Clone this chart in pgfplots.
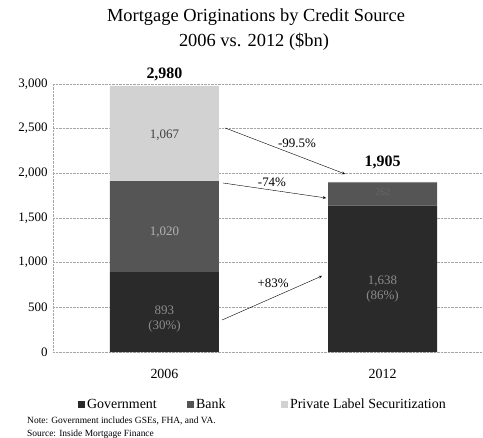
\documentclass[border=0pt]{standalone}
\usepackage{pgfplots}
\pgfplotsset{compat=1.18}
\usepackage{fontspec}
\setmainfont{Liberation Serif}
\definecolor{gov}{HTML}{2A2A2A}
\definecolor{bank}{HTML}{555555}
\definecolor{pls}{HTML}{D2D2D2}
\begin{document}
\begin{tikzpicture}
\path[use as bounding box] (0,0) rectangle (483bp,438bp);
\begin{axis}[
  at={(53bp,86bp)}, anchor=south west,
  scale only axis, width=429bp, height=268bp,
  ybar stacked, bar width=109bp,
  xmin=-0.511, xmax=1.456, ymin=0, ymax=3000,
  xtick={0,1}, xticklabels={2006,2012},
  ytick={0,500,1000,1500,2000,2500,3000},
  /pgf/number format/1000 sep={,},
  /pgf/number format/assume math mode=true,
  major tick length=0pt,
  axis lines*=left,
  axis line style={draw=gray!70, densely dotted, -},
  ymajorgrids, grid style={draw=gray!70, densely dotted},
  tick label style={font=\fontsize{13}{15}\selectfont, text=black},
  yticklabel style={xshift=-2bp},
  xticklabel style={yshift=-14bp, font=\fontsize{14}{16}\selectfont},
  legend style={at={(0.058,-0.195)}, anchor=west, draw=none, fill=none, inner sep=0pt,
    font=\fontsize{14}{16}\selectfont, legend columns=3,
    /tikz/column sep=0pt},
  legend image code/.code={\fill[#1] (0bp,-3.5bp) rectangle (7bp,3.5bp);},
  clip=false,
]
\addplot[fill=gov, draw=none] coordinates {(0,893) (1,1638)};
\addplot[fill=bank, draw=none] coordinates {(0,1020) (1,262)};
\addplot[fill=pls, draw=none] coordinates {(0,1067) (1,5)};
\legend{\makebox[98bp][l]{Government}, \makebox[83bp][l]{Bank}, Private Label Securitization}
\coordinate (t1) at (axis cs:0,3110);
\coordinate (t2) at (axis cs:1,2127);
\coordinate (l1) at (axis cs:0,2429);
\coordinate (l2) at (axis cs:0,1343);
\coordinate (l3) at (axis cs:0,370);
\coordinate (l4) at (axis cs:1,705);
\coordinate (l5) at (axis cs:1,1791);
\coordinate (a1s) at (axis cs:0.278,2508);
\coordinate (a1e) at (axis cs:0.828,1993);
\coordinate (a2s) at (axis cs:0.268,1892);
\coordinate (a2e) at (axis cs:0.741,1724);
\coordinate (a3s) at (axis cs:0.264,358);
\coordinate (a3e) at (axis cs:0.722,851);
\coordinate (p1) at (axis cs:0.608,2340);
\coordinate (p2) at (axis cs:0.493,1903);
\coordinate (p3) at (axis cs:0.498,772);
\end{axis}
\node[font=\fontsize{16}{18}\selectfont\bfseries] at (t1) {2,980};
\node[font=\fontsize{16}{18}\selectfont\bfseries] at (t2) {1,905};
\node[font=\fontsize{13}{15}\selectfont, text=black!75] at (l1) {1,067};
\node[font=\fontsize{13}{15}\selectfont, text=black!30] at (l2) {1,020};
\node[font=\fontsize{13}{15}\selectfont, text=white!55!black, align=center] at (l3) {893\\(30\%)};
\node[font=\fontsize{13}{15}\selectfont, text=white!55!black, align=center] at (l4) {1,638\\(86\%)};
\node[font=\fontsize{10}{12}\selectfont, text=black!60] at (l5) {262};
\draw[-stealth, thin] (a1s) -- (a1e);
\draw[-stealth, thin] (a2s) -- (a2e);
\draw[-stealth, thin] (a3s) -- (a3e);
\node[font=\fontsize{13}{15}\selectfont] at (p1) {-99.5\%};
\node[font=\fontsize{13}{15}\selectfont] at (p2) {-74\%};
\node[font=\fontsize{13}{15}\selectfont] at (p3) {+83\%};
\node[font=\fontsize{18.5}{21}\selectfont] at (256bp,421bp) {Mortgage Originations by Credit Source};
\node[font=\fontsize{18.5}{21}\selectfont] at (254bp,396bp) {2006 vs. 2012 (\$bn)};
\node[font=\fontsize{9.5}{11}\selectfont, anchor=west, inner sep=0pt] at (27bp,17bp) {Note: Government includes GSEs, FHA, and VA.};
\node[font=\fontsize{9.5}{11}\selectfont, anchor=west, inner sep=0pt] at (27bp,4bp) {Source: Inside Mortgage Finance};
\end{tikzpicture}
\end{document}
